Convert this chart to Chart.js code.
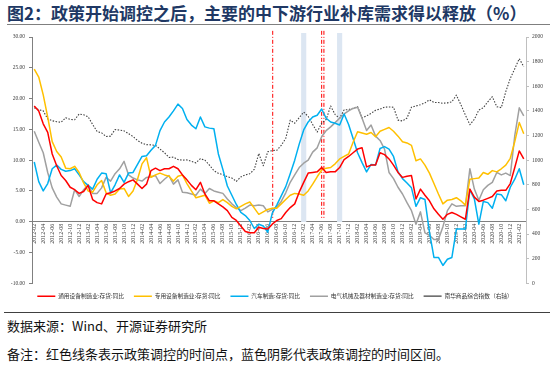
<!DOCTYPE html>
<html>
<head>
<meta charset="utf-8">
<script src="https://cdn.jsdelivr.net/npm/chart.js@4.4.1/dist/chart.umd.min.js"></script>
<style>
  body { margin: 0; background: #fff; }
  #page { position: relative; width: 550px; height: 367px; overflow: hidden; font-family: "Noto Sans CJK SC", sans-serif; }
  #title { position: absolute; left: 7px; top: 3px; font-size: 17px; line-height: 20px; font-weight: bold; color: #203864; white-space: nowrap; }
  .rule { position: absolute; height: 0; }
  #chart { position: absolute; left: 0; top: 27px; }
  .foot { position: absolute; left: 7px; font-size: 13px; line-height: 16px; color: #111; white-space: nowrap; }
</style>
</head>
<body>
<div id="page">
  <div id="title">图2：政策开始调控之后，主要的中下游行业补库需求得以释放（%）</div>
  <div class="rule" style="left:7px; top:24px; width:543px; border-top:1px solid #7f7f7f;"></div>
  <canvas id="chart" width="550" height="282"></canvas>
  <div class="rule" style="left:4px; top:312px; width:546px; border-top:1px solid #404040;"></div>
  <div class="foot" style="top:318px;">数据来源：Wind、开源证券研究所</div>
  <div class="foot" style="top:346px;">备注：红色线条表示政策调控的时间点，蓝色阴影代表政策调控的时间区间。</div>
</div>
<script>
// monthly categories 2012-02 .. 2021-03
const months = [];
for (let y = 2012; y <= 2021; y++) {
  for (let m = 1; m <= 12; m++) {
    const key = y + "-" + String(m).padStart(2, "0");
    if (key >= "2012-02" && key <= "2021-03") months.push(key);
  }
}

// 通用设备制造业:存货:同比 (%)
const generalEquip = [
  18.8, 18.0, 15.9, 14.5, 11.0, 9.1, 7.5, 6.7, 5.6, 5.2,
  4.6, 4.9, 5.9, 3.6, 3.1, 2.9, 4.5, 4.7, 5.0, 5.4,
  6.1, 6.5, 6.8, 6.1, 5.4, 6.1, 8.3, 8.7, 8.3, 8.6,
  8.6, 9.0, 8.6, 7.6, 6.8, 5.9, 5.2, 6.4, 4.5, 3.4,
  3.4, 2.9, 2.4, 1.8, 0.7, 0.2, -0.7, -1.6, -1.8, -1.8,
  -0.9, -1.1, -1.2, -0.4, 0.2, 0.5, 1.5, 2.3, 2.9, 4.8,
  6.4, 7.9, 8.0, 8.1, 8.8, 8.0, 8.1, 8.1, 8.8, 10.1,
  10.6, 11.2, 11.8, 12.0, 8.9, 9.2, 9.2, 11.2, 10.9, 10.2,
  9.2, 8.0, 7.2, 7.4, 7.5, 3.7, 5.3, 4.3, 3.4, 2.1,
  1.2, 0.4, 1.2, 1.5, 1.2, 0.8, 0.4, 5.3, 4.0, 3.3,
  3.5, 3.8, 4.1, 5.0, 5.1, 5.1, 6.2, 8.8, 11.5, 10.2
];

// 专用设备制造业:存货:同比 (%)
const specialEquip = [
  24.8, 23.5, 20.6, 17.0, 13.0, 11.4, 10.5, 8.7, 8.6, 9.0,
  8.0, 6.3, 5.0, 4.8, 6.0, 6.7, 4.7, 4.3, 4.5, 5.3,
  5.4, 4.1, 5.0, 6.9, 9.4, 10.4, 7.2, 7.6, 7.9, 7.6,
  7.4, 6.6, 7.4, 7.6, 6.2, 5.0, 3.9, 4.1, 4.3, 3.0,
  3.4, 3.1, 3.6, 3.1, 2.5, 2.1, 2.5, 2.9, 3.2, 2.2,
  1.2, 1.6, 2.0, 2.2, 2.2, 2.9, 3.6, 4.3, 4.6, 4.5,
  4.3, 5.0, 6.1, 7.3, 8.4, 8.7, 8.8, 9.4, 10.2, 10.6,
  11.0, 12.9, 14.6, 14.4, 14.2, 14.5, 13.8, 14.7, 15.0, 15.3,
  14.7, 13.9, 13.0, 12.8, 12.4, 9.9, 10.2, 9.2, 7.9, 6.2,
  4.5, 2.9, 3.5, 3.6, 3.9, 3.4, 2.7, 6.9, 7.0, 7.1,
  8.0, 7.7, 8.3, 8.1, 8.6, 9.2, 10.3, 13.0, 16.1, 14.3
];

// 汽车制造:存货:同比 (%)
const autoMfg = [
  9.7, 6.5, 5.0, 6.2, 8.6, 9.2, 8.5, 8.2, 8.3, 8.6,
  7.6, 6.5, 5.9, 5.3, 6.9, 7.9, 7.8, 4.7, 6.0, 7.6,
  6.4, 7.9, 8.0, 9.3, 10.6, 10.7, 11.6, 12.4, 14.8, 16.2,
  17.0, 18.0, 19.1, 18.4, 16.6, 15.7, 15.1, 17.0, 15.4, 15.2,
  15.1, 11.0, 8.5, 5.8, 4.3, 2.8, 1.5, 1.0, 0.2, -1.1,
  -0.4, -0.7, -1.7, 1.4, 2.7, 4.2, 5.7, 7.8, 10.0, 12.6,
  14.9, 16.2, 17.0, 17.3, 18.3, 16.8, 16.2, 16.0, 15.7, 17.5,
  15.8, 13.5, 11.2, 9.6, 8.1, 9.3, 9.2, 11.9, 12.2, 11.8,
  10.6, 8.1, 7.0, 6.3, 5.5, 2.5, 3.9, 3.6, -1.7, -5.8,
  -5.8, -7.1, -6.1, -5.8, -1.2, -1.2, -1.2, 5.2, 3.7, -0.4,
  3.3, 3.1, 2.2, 4.5, 4.4, 3.4, 5.6, 6.9, 8.6, 6.0
];

// 电气机械及器材制造业:存货:同比 (%)
const electricalMfg = [
  14.7, 12.9, 11.2, 8.0, 5.5, 4.0, 2.9, 2.7, 2.5, 5.2,
  4.1, 5.2, 6.0, 4.6, 4.6, 5.5, 7.2, 6.6, 7.8, 8.6,
  9.8, 7.6, 7.1, 6.8, 6.6, 7.2, 7.3, 7.5, 6.2, 6.9,
  7.5, 6.1, 6.8, 4.8, 4.7, 4.5, 4.3, 5.3, 4.6, 5.4,
  5.0, 4.8, 4.6, 3.7, 2.9, 2.3, 1.8, 2.2, 2.7, 2.6,
  2.7, 2.6, 1.6, 2.0, 2.4, 3.3, 4.7, 6.4, 7.6, 8.8,
  9.5, 10.0, 11.3, 12.0, 13.8, 14.8, 15.4, 16.1, 16.8, 17.5,
  18.0, 18.4, 18.6, 16.8, 14.8, 15.7, 13.9, 13.2, 11.8, 8.0,
  7.0, 5.6, 4.5, 3.1, 1.8, -0.4, 1.6, -1.8, -2.2, -2.9,
  -2.9, -0.8, 1.8, 2.9, 2.5, 2.6, 2.6, 8.6, 5.3, 3.5,
  5.2, 5.9, 6.4, 8.0, 7.6, 7.9, 7.5, 14.0, 18.5, 17.2
];

// 南华商品综合指数 (right axis)
const nanhuaIndex = [
  1425, 1410, 1400, 1335, 1320, 1312, 1308, 1345, 1330, 1328,
  1375, 1368, 1352, 1290, 1232, 1222, 1192, 1195, 1248, 1244,
  1238, 1215, 1192, 1160, 1138, 1126, 1124, 1120, 1090, 1060,
  1022, 1025, 1005, 1000, 1002, 990, 978, 1012, 1000, 960,
  915, 893, 882, 866, 855, 828, 864, 880, 890, 925,
  1054, 955, 1068, 1078, 1080, 1120, 1176, 1325, 1300, 1345,
  1390, 1355, 1290, 1228, 1300, 1330, 1440, 1370, 1340, 1408,
  1410, 1422, 1435, 1342, 1360, 1380, 1405, 1415, 1430, 1432,
  1430, 1325, 1318, 1342, 1430, 1440, 1450, 1465, 1490, 1468,
  1468, 1462, 1465, 1474, 1528, 1450, 1366, 1288, 1332, 1407,
  1426, 1474, 1515, 1434, 1426, 1556, 1664, 1742, 1824, 1759
];

// policy events
const policyDates = ["2016-07-18", "2017-06-15", "2017-06-30"];
const policyBands = ["2017-02", "2017-10"];

const bandRange = [500, 2030];
const lineRange = [520, 2050];

function monthPos(date) {
  const idx = months.indexOf(date.slice(0, 7));
  const day = parseInt(date.slice(8, 10), 10);
  return idx + (day - 15) / 30;
}

const policyLines = {
  id: "policyLines",
  beforeDatasetsDraw(chart) {
    const { ctx, scales } = chart;
    ctx.save();
    ctx.strokeStyle = "#ff0000";
    ctx.lineWidth = 1;
    ctx.setLineDash([4, 2, 1, 2]);
    policyDates.forEach((d) => {
      const px = scales.x.getPixelForValue(monthPos(d));
      ctx.beginPath();
      ctx.moveTo(px, scales.y1.getPixelForValue(lineRange[1]));
      ctx.lineTo(px, scales.y1.getPixelForValue(lineRange[0]));
      ctx.stroke();
    });
    ctx.restore();
  },
};

const tickFont = { family: "Liberation Serif", size: 5.5 };

new Chart(document.getElementById("chart"), {
  type: "line",
  data: {
    labels: months,
    datasets: [
      { label: "通用设备制造业:存货:同比", data: generalEquip, borderColor: "#ff0000", borderWidth: 1.5, yAxisID: "y" },
      { label: "专用设备制造业:存货:同比", data: specialEquip, borderColor: "#ffc000", borderWidth: 1.5, yAxisID: "y" },
      { label: "汽车制造:存货:同比", data: autoMfg, borderColor: "#00b0f0", borderWidth: 1.5, yAxisID: "y" },
      { label: "电气机械及器材制造业:存货:同比", data: electricalMfg, borderColor: "#a0a0a0", borderWidth: 1.5, yAxisID: "y" },
      { label: "南华商品综合指数（右轴）", data: nanhuaIndex, borderColor: "#404040", borderWidth: 1.1, borderDash: [1.5, 1.5], yAxisID: "y1" },
      {
        type: "bar",
        label: "调控区间",
        data: months.map((m) => (policyBands.includes(m) ? bandRange : null)),
        backgroundColor: "#dce6f2",
        yAxisID: "y1",
        barPercentage: 1,
        categoryPercentage: 1,
        order: 10,
        clip: false,
      },
    ],
  },
  options: {
    responsive: false,
    devicePixelRatio: 1,
    animation: false,
    layout: { autoPadding: false, padding: { top: 10, left: 0, right: 0, bottom: 0 } },
    elements: {
      point: { radius: 0 },
      line: { tension: 0, borderJoinStyle: "round", fill: false },
    },
    plugins: {
      tooltip: { enabled: false },
      legend: {
        position: "bottom",
        labels: {
          filter: (item) => item.datasetIndex < 5,
          usePointStyle: true,
          pointStyle: "line",
          pointStyleWidth: 18,
          padding: 10,
          color: "#333",
          font: { family: "Noto Sans CJK SC", size: 5.7 },
        },
      },
    },
    scales: {
      x: {
        type: "category",
        offset: true,
        position: { y: 0 },
        grid: { display: false, drawTicks: false },
        border: { display: true, color: "#808080" },
        ticks: {
          autoSkip: false,
          minRotation: 90,
          maxRotation: 90,
          padding: 2,
          color: "#404040",
          font: { family: "Liberation Serif", size: 6 },
          callback: function (value, index) {
            return index % 2 === 0 ? this.getLabelForValue(value) : "";
          },
        },
        afterFit: (axis) => {
          axis.height = 0;
        },
      },
      y: {
        position: "left",
        min: -10,
        max: 30,
        ticks: { stepSize: 5, padding: 4, color: "#404040", font: tickFont, callback: (v) => v.toFixed(2) },
        grid: { display: true, drawOnChartArea: false, drawTicks: true, tickLength: 3, color: "#808080" },
        border: { color: "#808080" },
        afterFit: (axis) => {
          axis.width = 32;
        },
      },
      y1: {
        position: "right",
        min: 0,
        max: 2000,
        ticks: { stepSize: 200, padding: 3, color: "#404040", font: tickFont, callback: (v) => String(v) },
        grid: { display: true, drawOnChartArea: false, drawTicks: true, tickLength: 3, color: "#bfbfbf" },
        border: { color: "#bfbfbf" },
        afterFit: (axis) => {
          axis.width = 24;
        },
      },
    },
  },
  plugins: [policyLines],
});
</script>
</body>
</html>
